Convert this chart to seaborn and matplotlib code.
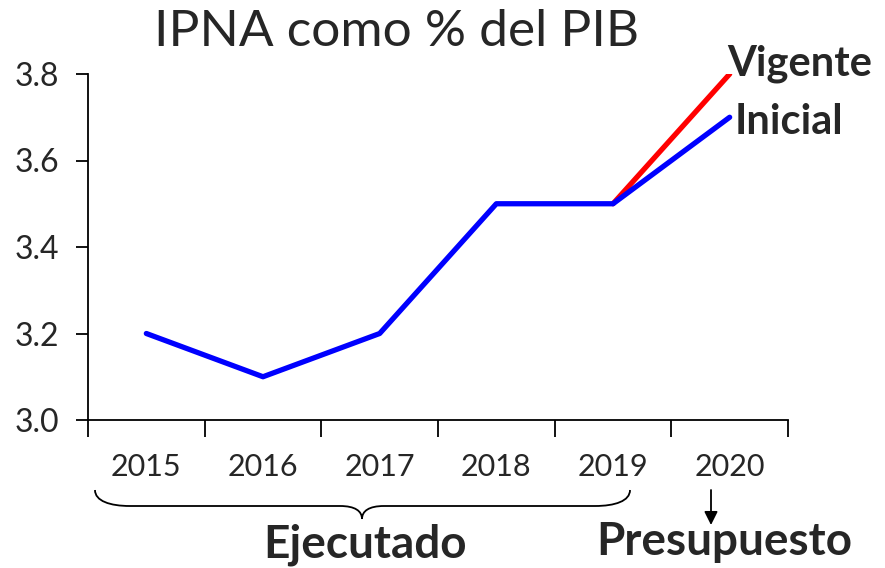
import numpy as np
import pandas as pd
import matplotlib
matplotlib.use('Agg')
import matplotlib.pyplot as plt
import seaborn as sns
from matplotlib.path import Path
from matplotlib.patches import PathPatch, FancyArrowPatch
from matplotlib.transforms import Affine2D

# data
years = ['2015', '2016', '2017', '2018', '2019', '2020']
inicial = [3.2, 3.1, 3.2, 3.5, 3.5, 3.7]
vigente = [np.nan, np.nan, np.nan, np.nan, 3.5, 3.8]
yticks = [3.0, 3.2, 3.4, 3.6, 3.8]

sns.set_style('white')
plt.rcParams['font.family'] = ['Lato', 'DejaVu Sans']

df = pd.DataFrame({'pos': np.arange(len(years)), 'Inicial': inicial, 'Vigente': vigente})

fig = plt.figure(figsize=(8.85, 5.68), dpi=100)
ax = fig.add_axes([88 / 885, 1 - 420 / 568, 700 / 885, 346 / 568])

# red first so the blue sits on top at 2019
sns.lineplot(data=df, x='pos', y='Vigente', color='#ff0000', linewidth=3.8, ax=ax)
sns.lineplot(data=df, x='pos', y='Inicial', color='#0000ff', linewidth=3.8, ax=ax)

ax.set_xlim(-0.5, len(years) - 0.5)
ax.set_ylim(3.0, 3.8)
ax.set_xlabel('')
ax.set_ylabel('')

# category axis: tick marks between categories, labels centred
ax.set_xticks(np.arange(-0.5, len(years), 1.0))
ax.set_xticklabels([])
ax.set_xticks(np.arange(len(years)), minor=True)
ax.set_xticklabels(years, minor=True, fontsize=22)
ax.tick_params(axis='x', which='major', bottom=True, direction='out', length=12, width=1.3, color='black')
ax.tick_params(axis='x', which='minor', bottom=True, length=0, pad=24)
ax.set_yticks(yticks)
ax.set_yticklabels([f'{v:.1f}' for v in yticks], fontsize=23)
ax.tick_params(axis='y', left=True, direction='out', length=9, width=1.3, color='black', pad=12)

for s in ['top', 'right']:
    ax.spines[s].set_visible(False)
for s in ['left', 'bottom']:
    ax.spines[s].set_color('black')
    ax.spines[s].set_linewidth(1.3)

# series labels at the line ends
ax.text(4.98, 3.78, 'Vigente', fontsize=30, fontweight='bold', ha='left', va='bottom', clip_on=False)
ax.text(5.04, 3.69, 'Inicial', fontsize=30, fontweight='bold', ha='left', va='center', clip_on=False)

fig.text(397 / 885, 1 - 32 / 568, 'IPNA como % del PIB', fontsize=37, ha='center', va='center')

# brace under the executed years and arrow under the budget year (pixel coords)
px = Affine2D().scale(1 / 885, -1 / 568).translate(0, 1) + fig.transFigure
verts = [(95, 490), (95, 501), (110, 506), (130, 506),
         (340, 506), (355, 506), (362, 511), (362, 519),
         (362, 511), (369, 506), (384, 506),
         (595, 506), (615, 506), (630, 501), (630, 490)]
codes = [Path.MOVETO, Path.CURVE4, Path.CURVE4, Path.CURVE4,
         Path.LINETO, Path.CURVE4, Path.CURVE4, Path.CURVE4,
         Path.CURVE4, Path.CURVE4, Path.CURVE4,
         Path.LINETO, Path.CURVE4, Path.CURVE4, Path.CURVE4]
fig.patches.append(PathPatch(Path(verts, codes), transform=px, fill=False, lw=1.3, color='black'))
fig.patches.append(FancyArrowPatch((711, 490), (711, 525), transform=px,
                                   arrowstyle='-|>', mutation_scale=20, shrinkA=0, shrinkB=0,
                                   lw=1.3, color='black'))

fig.text(365 / 885, 1 - 545 / 568, 'Ejecutado', fontsize=33, fontweight='bold', ha='center', va='center')
fig.text(724 / 885, 1 - 542 / 568, 'Presupuesto', fontsize=33, fontweight='bold', ha='center', va='center')

plt.savefig('out.png', dpi=100)
plt.close()
